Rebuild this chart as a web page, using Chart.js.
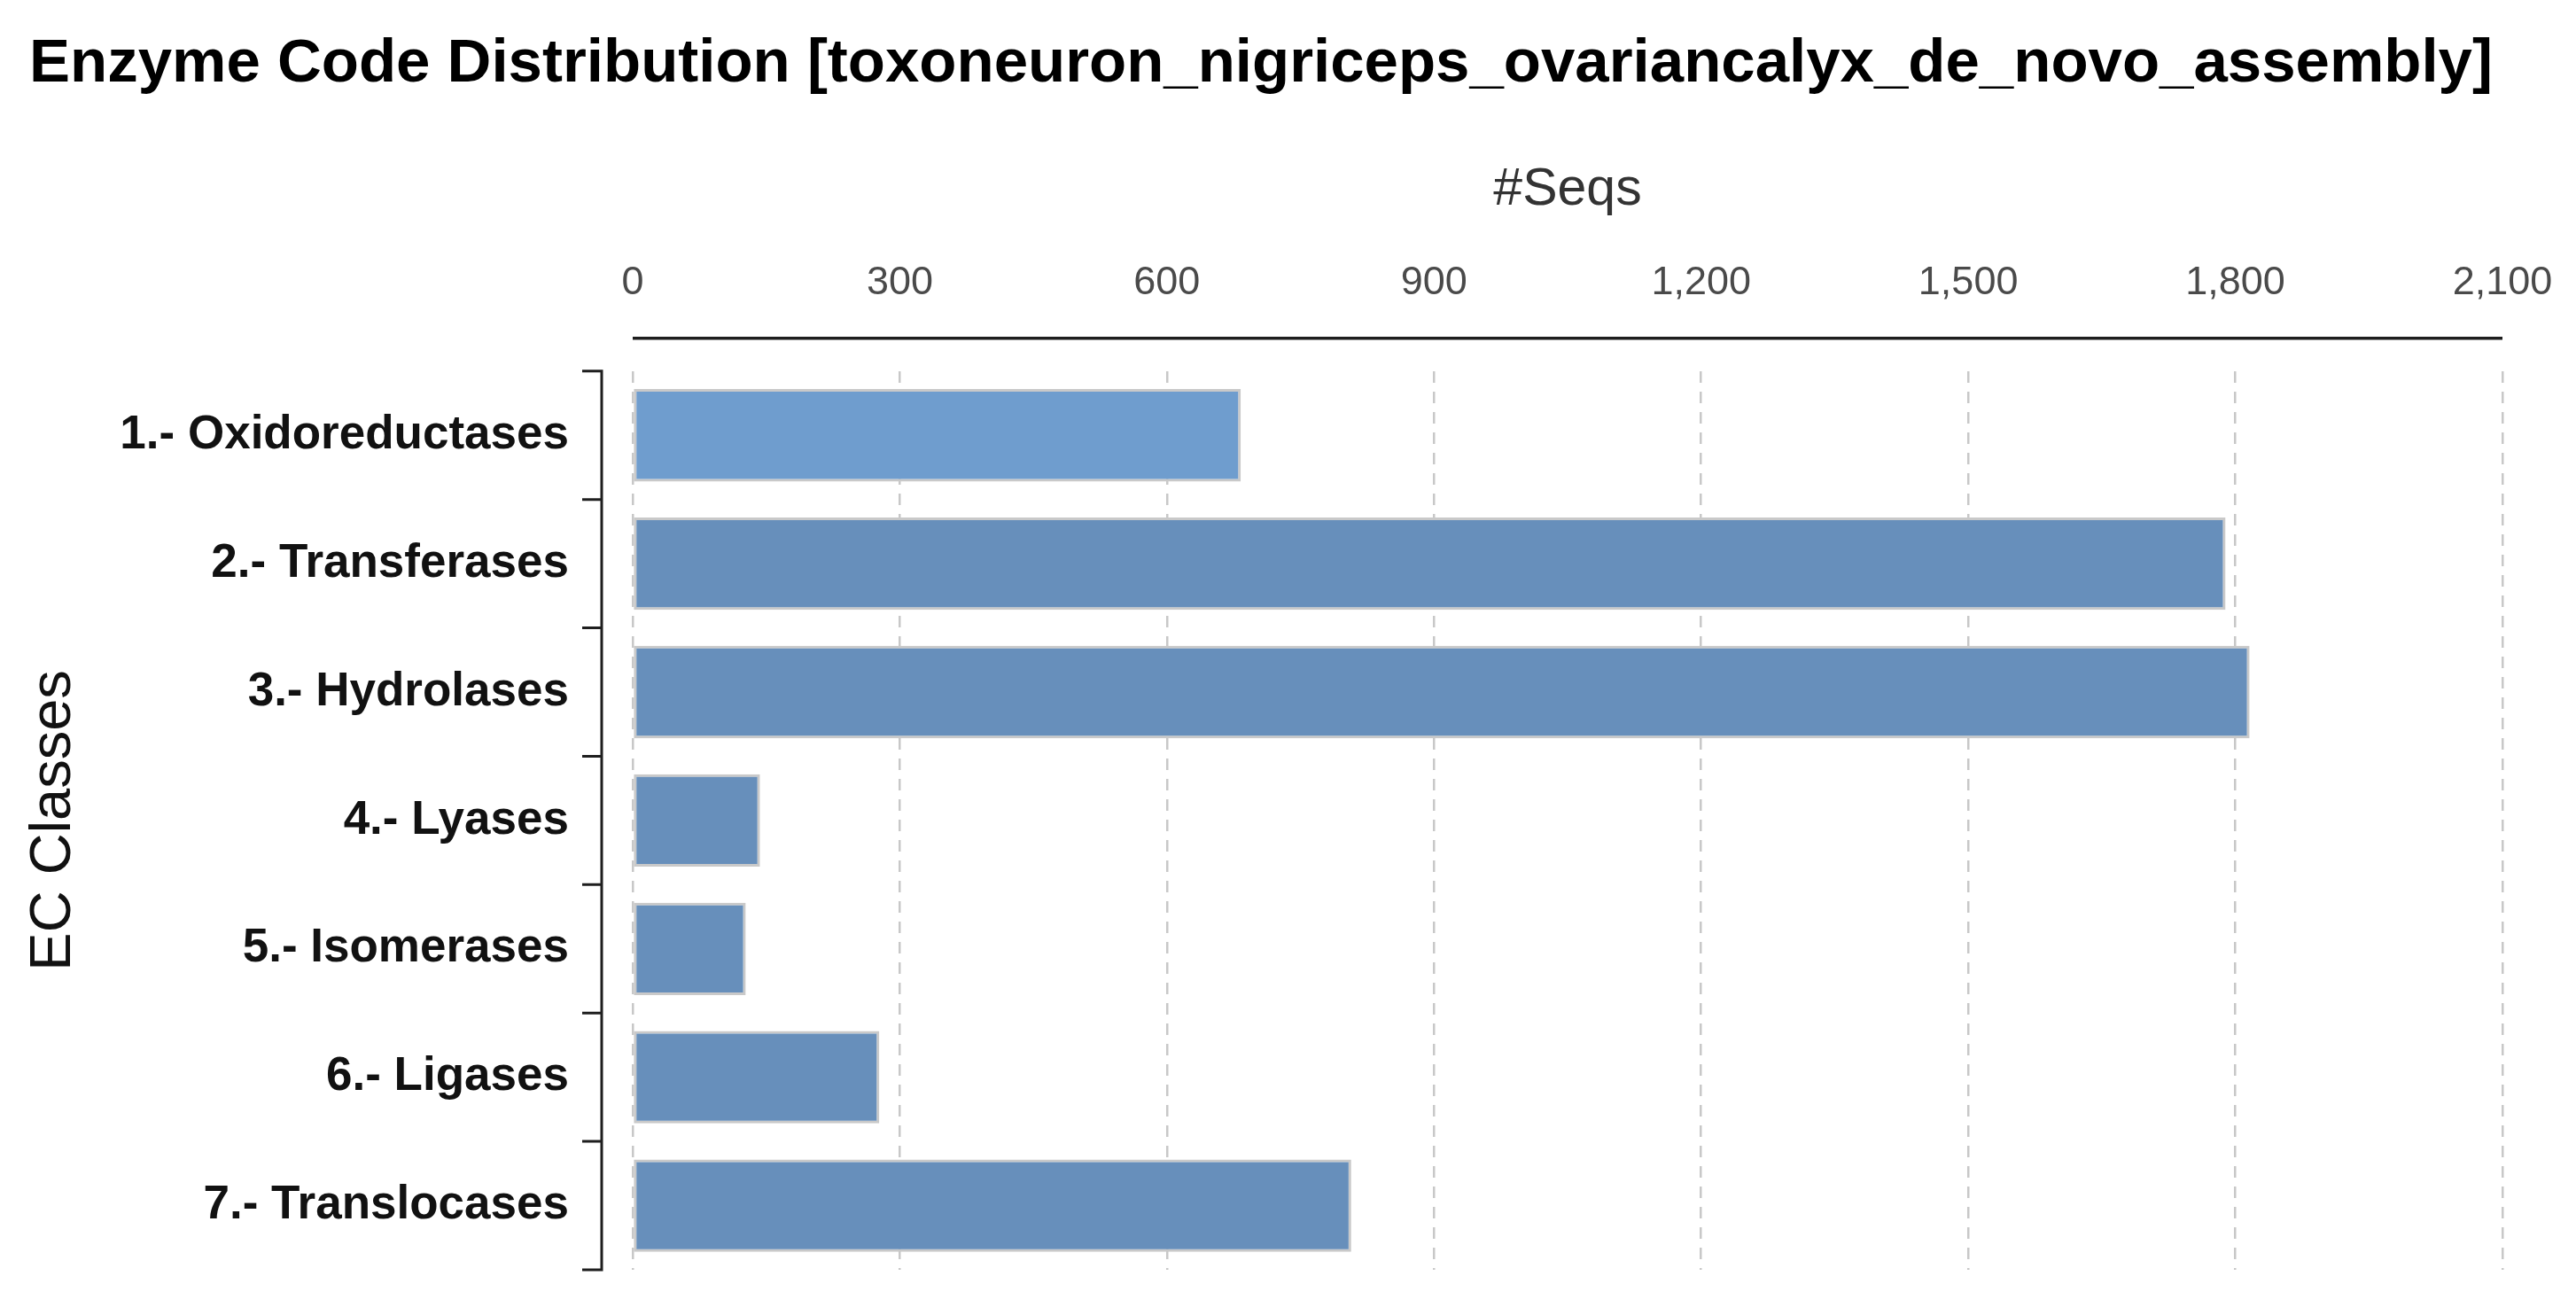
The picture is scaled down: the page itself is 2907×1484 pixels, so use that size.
<!DOCTYPE html>
<html>
<head>
<meta charset="utf-8">
<script src="https://cdn.jsdelivr.net/npm/chart.js@4/dist/chart.umd.min.js"></script>
<style>
  html, body { margin: 0; padding: 0; background: #fff; }
  canvas { display: block; }
</style>
</head>
<body>
<canvas id="ec-chart" width="2907" height="1484"></canvas>
<script>
const categories = ['1.- Oxidoreductases', '2.- Transferases', '3.- Hydrolases', '4.- Lyases', '5.- Isomerases', '6.- Ligases', '7.- Translocases'];
const seqCounts = [683, 1789, 1816, 143, 127, 277, 807];
const barColors = ['#6f9dce', '#678fbb', '#678fbb', '#678fbb', '#678fbb', '#678fbb', '#678fbb'];
const xTicks = [0, 300, 600, 900, 1200, 1500, 1800, 2100];

const FONT = '"Liberation Sans", Arial, sans-serif';

// axis lines sit a bit away from the plot, like the original chart
const offsetAxes = {
  id: 'offsetAxes',
  afterDraw(chart) {
    const { ctx, chartArea, scales } = chart;
    const x = scales.x, y = scales.y;
    ctx.save();
    ctx.strokeStyle = '#1e1e1e';
    ctx.lineWidth = 3.5;
    // top axis line
    const topY = chartArea.top - 37;
    ctx.beginPath();
    ctx.moveTo(x.getPixelForValue(xTicks[0]), topY);
    ctx.lineTo(x.getPixelForValue(xTicks[xTicks.length - 1]), topY);
    ctx.stroke();
    // left axis with category boundary ticks
    const leftX = chartArea.left - 35;
    ctx.lineWidth = 3;
    ctx.beginPath();
    ctx.moveTo(leftX, chartArea.top);
    ctx.lineTo(leftX, chartArea.bottom);
    for (let i = 0; i <= categories.length; i++) {
      const py = y.getPixelForValue(i - 0.5);
      ctx.moveTo(leftX + 1.5, py);
      ctx.lineTo(leftX - 22, py);
    }
    ctx.stroke();
    ctx.restore();
  }
};

new Chart(document.getElementById('ec-chart'), {
  type: 'bar',
  data: {
    labels: categories,
    datasets: [{
      label: '#Seqs',
      data: seqCounts,
      backgroundColor: barColors,
      borderColor: '#c9c9c9',
      borderWidth: 3,
      borderSkipped: false,
      barPercentage: 0.72,
      categoryPercentage: 1
    }]
  },
  options: {
    indexAxis: 'y',
    responsive: false,
    animation: false,
    devicePixelRatio: 1,
    locale: 'en-US',
    layout: { padding: { left: 33, right: 83, top: 0, bottom: 51 } },
    plugins: {
      legend: { display: false },
      tooltip: { enabled: false },
      title: {
        display: true,
        text: 'Enzyme Code Distribution [toxoneuron_nigriceps_ovariancalyx_de_novo_assembly]',
        align: 'start',
        color: '#000',
        font: { family: FONT, size: 69, weight: 'bold', lineHeight: 1.2 },
        padding: { top: 32, bottom: 0 }
      }
    },
    scales: {
      x: {
        position: 'top',
        min: 0,
        max: 2100,
        afterBuildTicks: (scale) => { scale.ticks = xTicks.map(v => ({ value: v })); },
        afterFit: (scale) => {
          scale.height = 304;
          scale.paddingLeft = 0;
          scale.paddingRight = 0;
        },
        ticks: {
          color: '#4a4a4a',
          padding: 72,
          maxRotation: 0,
          font: { family: FONT, size: 45 }
        },
        grid: {
          color: '#c8c8c8',
          lineWidth: 2.5,
          drawTicks: false
        },
        border: { display: false, dash: [13, 10] },
        title: {
          display: true,
          text: '#Seqs',
          color: '#333',
          font: { family: FONT, size: 59, lineHeight: 1.2 },
          padding: { top: 65, bottom: 0 }
        }
      },
      y: {
        afterFit: (scale) => {
          scale.width = 681;
          scale.paddingTop = 0;
          scale.paddingBottom = 0;
        },
        ticks: {
          color: '#111',
          padding: 64,
          font: { family: FONT, size: 53, weight: 'bold' }
        },
        grid: { display: false },
        border: { display: false },
        title: {
          display: true,
          text: 'EC Classes',
          color: '#111',
          font: { family: FONT, size: 65, lineHeight: 1 },
          padding: { top: -4, bottom: 0 }
        }
      }
    }
  },
  plugins: [offsetAxes]
});
</script>
</body>
</html>
